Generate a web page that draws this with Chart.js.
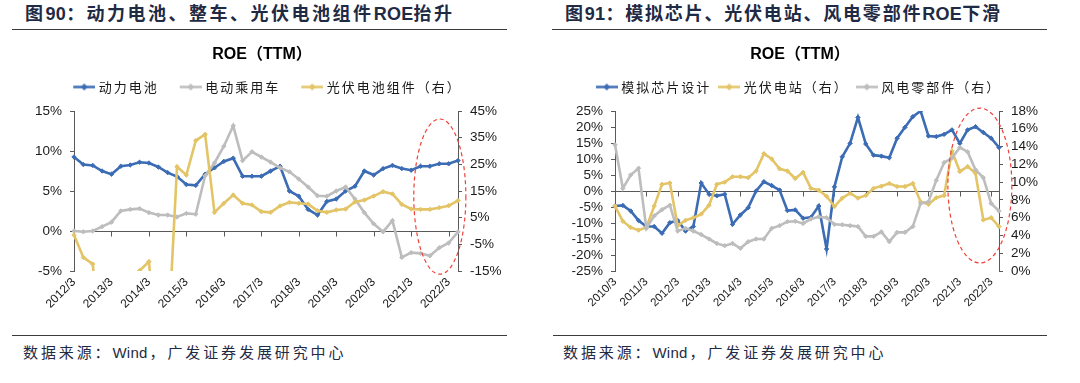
<!DOCTYPE html>
<html><head><meta charset="utf-8">
<script src="https://cdn.jsdelivr.net/npm/chart.js@4.4.1/dist/chart.umd.min.js"></script>
<style>
html,body{margin:0;padding:0;background:#fff;width:1080px;height:383px;overflow:hidden;position:relative;font-family:"Liberation Sans","Noto Sans CJK SC",sans-serif;}
.hdr{position:absolute;top:3px;font-weight:bold;font-size:18px;letter-spacing:2.5px;color:#1f2a44;white-space:nowrap;line-height:22px;}
.hdr .l{letter-spacing:0.3px;}
.rule{position:absolute;height:1px;background:#3a3a3a;}
.src{position:absolute;top:343px;font-size:15px;letter-spacing:2.9px;color:#1f2a44;white-space:nowrap;line-height:20px;}
.src .l{letter-spacing:0.2px;margin-right:2px;}
canvas{position:absolute;}
</style></head><body>
<div class="hdr" style="left:25px">图<span class="l">90</span>：动力电池、整车、光伏电池组件<span class="l">ROE</span>抬升</div>
<div class="rule" style="left:12px;width:495px;top:29px"></div>
<div class="hdr" style="left:565px;letter-spacing:1.8px">图<span class="l">91</span>：模拟芯片、光伏电站、风电零部件<span class="l">ROE</span>下滑</div>
<div class="rule" style="left:552px;width:495px;top:29px"></div>
<div class="rule" style="left:12px;width:495px;top:335px"></div>
<div class="rule" style="left:553px;width:494px;top:335px"></div>
<div class="src" style="left:23px">数据来源：<span class="l">Wind</span>，广发证券发展研究中心</div>
<div class="src" style="left:563px">数据来源：<span class="l">Wind</span>，广发证券发展研究中心</div>
<canvas id="c1" width="524" height="290" style="left:0;top:38px"></canvas>
<canvas id="c2" width="520" height="290" style="left:540px;top:38px"></canvas>
<script>
// ---------- data ----------
function quarterLabels(startYear, n) {
  const months = [3, 6, 9, 12];
  const out = [];
  for (let i = 0; i < n; i++) out.push((startYear + Math.floor(i / 4)) + '/' + months[i % 4]);
  return out;
}
const leftCategories = quarterLabels(2012, 42);   // 2012/3 ... 2022/6
const rightCategories = quarterLabels(2010, 50);  // 2010/3 ... 2022/6

const leftSeriesNames = ['动力电池', '电动乘用车', '光伏电池组件（右）'];
const powerBattery = [9.25, 8.3, 8.2, 7.5, 7.1, 8.1, 8.25, 8.6, 8.5, 8.0, 7.3, 6.8, 5.8, 5.7, 7.1, 7.9, 8.7, 9.1, 6.85, 6.85, 6.85, 7.5, 8.1, 5.0, 4.35, 2.7, 2.0, 3.7, 4.0, 5.0, 5.6, 7.5, 7.0, 7.8, 8.2, 7.8, 7.6, 8.1, 8.1, 8.4, 8.4, 8.8];
const evPassengerCar = [0, -0.1, 0, 0.55, 1.1, 2.5, 2.7, 2.8, 2.3, 2.0, 2.0, 1.75, 2.2, 2.1, 6.9, 8.5, 10.6, 13.15, 8.8, 9.9, 9.25, 8.6, 7.9, 7.4, 6.5, 5.5, 4.4, 4.35, 5.0, 5.5, 4.0, 2.3, 0.9, -0.1, 1.3, -3.3, -2.7, -2.8, -3.1, -2.1, -1.5, -0.1];
const pvModule = [-1.5, -9.9, -12.4, -45, -40, -42, -40, -14.9, -11.5, -50, -44, 24.1, 21.0, 33.9, 36.25, 7.0, 10.4, 13.5, 10.4, 9.75, 7.25, 7.0, 9.4, 10.75, 10.4, 10.1, 7.6, 7.0, 7.9, 8.25, 10.9, 11.6, 13.1, 14.75, 13.9, 10.0, 8.25, 8.1, 8.1, 8.75, 9.5, 11.4];

const rightSeriesNames = ['模拟芯片设计', '光伏电站（右）', '风电零部件（右）'];
const analogChip = [-4.7, -4.5, -6.25, -9.2, -11.1, -11.1, -13.2, -9.9, -9.2, -12.5, -11.1, 2.5, -1.0, -1.5, -1.0, -10.4, -7.5, -5.2, 0, 2.9, 1.7, 0.3, -6.1, -5.9, -8.5, -8.2, -4.7, -18.1, 1.3, 10.7, 14.9, 23.0, 14.7, 11.2, 10.9, 10.4, 16.5, 19.9, 23.2, 25.0, 17.2, 17.0, 17.7, 19.1, 14.9, 19.1, 20.1, 18.3, 16.5, 13.6];
const pvPlant = [7.3, 5.6, 4.9, 4.6, 4.9, 7.3, 9.75, 9.9, 5.1, 5.7, 6.0, 6.4, 7.4, 9.75, 10.0, 10.6, 10.6, 10.5, 11.25, 13.2, 12.6, 11.5, 11.25, 10.4, 11.1, 9.3, 9.1, 8.4, 7.25, 8.2, 8.75, 8.2, 8.5, 9.3, 9.55, 9.85, 9.5, 9.5, 9.85, 7.8, 7.5, 8.25, 8.5, 13.5, 11.2, 11.75, 11.0, 5.75, 6.0, 5.0];
const windParts = [14.2, 9.3, 10.8, 11.55, 4.8, 6.2, 6.9, 7.4, 4.5, 4.8, 4.5, 4.1, 3.6, 3.1, 2.85, 3.1, 2.55, 3.3, 3.6, 3.6, 4.8, 5.1, 5.55, 5.6, 5.35, 5.85, 6.1, 6.0, 5.25, 5.2, 5.1, 5.0, 3.9, 3.9, 4.4, 3.3, 4.35, 4.35, 5.0, 7.6, 7.8, 10.2, 12.2, 12.7, 13.9, 13.4, 11.4, 10.5, 7.6, 6.75];

const chartTitle = 'ROE（TTM）';

// ---------- styles ----------
const BLUE = '#3b6cb4', GRAY = '#bdbdbd', GOLD = '#e3c466';
const AXIS = '#595959', TXT = '#1a1a1a';
const FONT = '"Liberation Sans", "Noto Sans CJK SC", sans-serif';
const CJK = '"Noto Sans CJK SC", "Liberation Sans", sans-serif';

function legendImage(color, width, lineStart) {
  const c = document.createElement('canvas');
  c.width = width; c.height = 9;
  const g = c.getContext('2d');
  g.strokeStyle = color; g.lineWidth = 2.5;
  g.beginPath(); g.moveTo(lineStart, 4.5); g.lineTo(width, 4.5); g.stroke();
  const cx = (lineStart + width) / 2;
  g.fillStyle = color;
  g.beginPath(); g.moveTo(cx, 1); g.lineTo(cx + 3.5, 4.5); g.lineTo(cx, 8); g.lineTo(cx - 3.5, 4.5); g.closePath(); g.fill();
  return c;
}

const zeroAxisPlugin = {
  id: 'zeroAxis',
  beforeDatasetsDraw(chart, args, opts) {
    const {ctx, chartArea} = chart;
    const xs = chart.scales.x, ys = chart.scales.y;
    const y0 = Math.round(ys.getPixelForValue(0)) + 0.5;
    ctx.save();
    ctx.strokeStyle = AXIS; ctx.lineWidth = 1;
    ctx.beginPath();
    ctx.moveTo(chartArea.left, y0); ctx.lineTo(chartArea.right, y0);
    xs.ticks.forEach((t, i) => {
      const px = Math.round(xs.getPixelForTick(i)) + 0.5;
      ctx.moveTo(px, y0); ctx.lineTo(px, y0 + 5);
    });
    ctx.stroke();
    ctx.restore();
  }
};

const ellipsePlugin = {
  id: 'ellipseMark',
  afterDatasetsDraw(chart, args, opts) {
    const {ctx} = chart;
    const xs = chart.scales.x, ys = chart.scales.y;
    const cx = xs.getPixelForValue(opts.cx), cy = ys.getPixelForValue(opts.cy);
    const rx = Math.abs(xs.getPixelForValue(opts.cx + opts.rx) - cx);
    const ry = Math.abs(ys.getPixelForValue(opts.cy + opts.ry) - cy);
    ctx.save();
    ctx.setLineDash([4, 3]);
    ctx.strokeStyle = '#ee4138'; ctx.lineWidth = 1.2;
    ctx.beginPath(); ctx.ellipse(cx, cy, rx, ry, 0, 0, Math.PI * 2); ctx.stroke();
    ctx.restore();
  }
};

const legendSpacingPlugin = {
  id: 'legendSpacing',
  beforeUpdate(chart, args, opts) {
    const lg = chart.legend;
    if (!lg || lg._patched) return;
    lg._patched = true;
    const fit = lg.fit.bind(lg), draw = lg.draw.bind(lg);
    lg.fit = function () {
      const c = this.ctx; c.save(); c.letterSpacing = opts.spacing + 'px';
      fit(); c.restore();
      this.height += opts.extra;
    };
    lg.draw = function () {
      const c = this.ctx; c.save(); c.letterSpacing = opts.spacing + 'px';
      draw(); c.restore();
    };
  }
};

function makeChart(id, cfg) {
  const ds = cfg.series.map((s, i) => ({
    label: s.name,
    data: s.data,
    yAxisID: s.axis,
    borderColor: s.color,
    backgroundColor: s.color,
    borderWidth: 2.6,
    pointStyle: 'rectRot',
    pointRadius: 2.2,
    pointBorderWidth: 1,
    pointBorderColor: s.color,
    pointBackgroundColor: s.color,
    tension: 0,
    order: cfg.series.length - i
  }));
  const legendImgs = cfg.series.map(s => legendImage(s.color, cfg.legendImgW, cfg.legendLineStart));
  return new Chart(document.getElementById(id), {
    type: 'line',
    data: {labels: cfg.labels, datasets: ds},
    plugins: [zeroAxisPlugin, ellipsePlugin, legendSpacingPlugin],
    options: {
      responsive: false,
      animation: false,
      events: [],
      layout: {padding: 0},
      plugins: {
        tooltip: {enabled: false},
        title: {
          display: true, text: chartTitle, color: '#000',
          font: {family: FONT, size: 16, weight: 'bold'},
          padding: {top: 7.4, bottom: 5.9}
        },
        legend: {
          display: true, position: 'top',
          labels: {
            usePointStyle: true,
            pointStyleWidth: cfg.legendBoxW,
            boxHeight: 13,
            padding: 10,
            color: TXT,
            font: {family: CJK, size: 13},
            generateLabels(chart) {
              return chart.data.datasets.map((d, i) => ({
                text: d.label, fillStyle: d.borderColor, strokeStyle: d.borderColor,
                lineWidth: 0, hidden: false, datasetIndex: i, pointStyle: legendImgs[i],
                fontColor: TXT
              }));
            }
          }
        },
        legendSpacing: {spacing: 2, extra: 7.5},
        zeroAxis: {},
        ellipseMark: cfg.ellipse
      },
      scales: {
        x: {
          type: 'category',
          offset: false,
          grid: {display: false, drawTicks: false},
          border: {display: false},
          afterBuildTicks(scale) { scale.ticks = scale.ticks.filter((t, i) => i % 4 === 0); },
          afterFit(scale) { scale.height = 57; },
          ticks: {
            autoSkip: false, minRotation: 45, maxRotation: 45, padding: 4,
            color: TXT, font: {family: FONT, size: cfg.xFont}
          }
        },
        y: {
          position: 'left',
          min: cfg.left.min, max: cfg.left.max,
          afterFit(scale) { scale.width = cfg.left.width; },
          grid: {drawOnChartArea: false, drawTicks: true, tickLength: 4, color: AXIS},
          border: {display: true, color: AXIS, width: 1},
          ticks: {stepSize: cfg.left.step, autoSkip: false, padding: 8, color: TXT, font: {family: FONT, size: 13.5},
                  callback: v => v + '%'}
        },
        y1: {
          position: 'right',
          min: cfg.right.min, max: cfg.right.max,
          afterFit(scale) { scale.width = cfg.right.width; },
          grid: {drawOnChartArea: false, drawTicks: true, tickLength: 4, color: AXIS},
          border: {display: true, color: AXIS, width: 1},
          ticks: {stepSize: cfg.right.step, autoSkip: false, padding: 8, color: TXT, font: {family: FONT, size: 13.5},
                  callback: v => v + '%'}
        }
      }
    }
  });
}

makeChart('c1', {
  labels: leftCategories,
  series: [
    {name: leftSeriesNames[0], data: powerBattery, axis: 'y', color: BLUE},
    {name: leftSeriesNames[1], data: evPassengerCar, axis: 'y', color: GRAY},
    {name: leftSeriesNames[2], data: pvModule, axis: 'y1', color: GOLD}
  ],
  left: {min: -5, max: 15, step: 5, width: 74},
  right: {min: -15, max: 45, step: 10, width: 66},
  legendImgW: 36, legendLineStart: 14, legendBoxW: 30, xFont: 12,
  ellipse: {cx: 39.06, cy: 4.3, rx: 2.78, ry: 9.7}
});

makeChart('c2', {
  labels: rightCategories,
  series: [
    {name: rightSeriesNames[0], data: analogChip, axis: 'y', color: BLUE},
    {name: rightSeriesNames[1], data: pvPlant, axis: 'y1', color: GOLD},
    {name: rightSeriesNames[2], data: windParts, axis: 'y1', color: GRAY}
  ],
  left: {min: -25, max: 25, step: 5, width: 75},
  right: {min: 0, max: 18, step: 2, width: 61},
  legendImgW: 22, legendLineStart: 0, legendBoxW: 16, xFont: 11.5,
  ellipse: {cx: 46.56, cy: 1.7, rx: 4.08, ry: 24.2}
});
</script>
</body></html>
